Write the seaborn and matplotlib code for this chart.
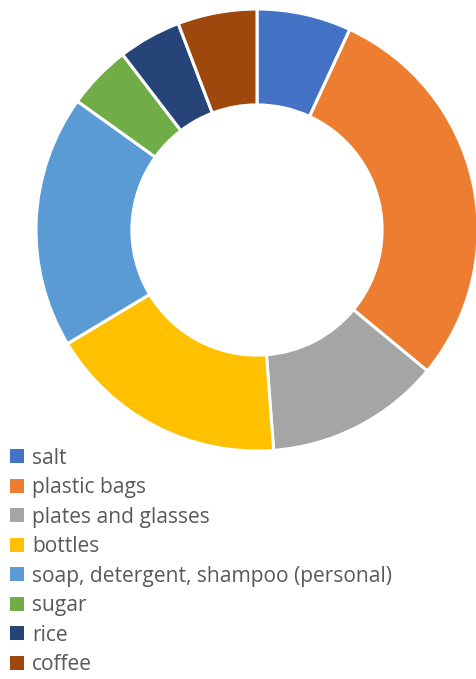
import matplotlib
matplotlib.use("Agg")
import matplotlib.pyplot as plt
from matplotlib.patches import Patch
import seaborn as sns

# Share of household items (percent)
categories = ["salt", "plastic bags", "plates and glasses", "bottles",
              "soap, detergent, shampoo (personal)", "sugar", "rice", "coffee"]
shares = [6.9, 29.1, 12.8, 17.6, 18.5, 4.7, 4.6, 5.8]
colors = ["#4472C4", "#ED7D31", "#A5A5A5", "#FFC000",
          "#5B9BD5", "#70AD47", "#264478", "#9E480E"]

sns.set_theme(style="white")
plt.rcParams["font.family"] = ["Open Sans", "DejaVu Sans"]
palette = sns.color_palette(colors)

W, H = 477, 679
fig = plt.figure(figsize=(W / 100, H / 100), dpi=100)

# Donut axes placed in pixel units
cx, cy, r = 257, 230, 221
ax = fig.add_axes([(cx - r) / W, (H - cy - r) / H, 2 * r / W, 2 * r / H])
ax.pie(shares, colors=palette, startangle=90, counterclock=False,
       radius=1.0,
       wedgeprops=dict(width=0.434, edgecolor="white", linewidth=2.2))
ax.set_xlim(-1, 1)
ax.set_ylim(-1, 1)
ax.set_aspect("equal")
ax.axis("off")

handles = [Patch(facecolor=c, edgecolor="none") for c in palette]
fs = 15.1
leg = fig.legend(handles, categories, loc="upper left",
                 bbox_to_anchor=(6 / W, 1 - 443.5 / H),
                 frameon=False, fontsize=fs,
                 handlelength=0.667, handleheight=0.667, handletextpad=0.38,
                 labelspacing=0.405, borderaxespad=0, borderpad=0.2)
for t in leg.get_texts():
    t.set_color("#595959")

fig.savefig("out.png", dpi=100, facecolor="white")
